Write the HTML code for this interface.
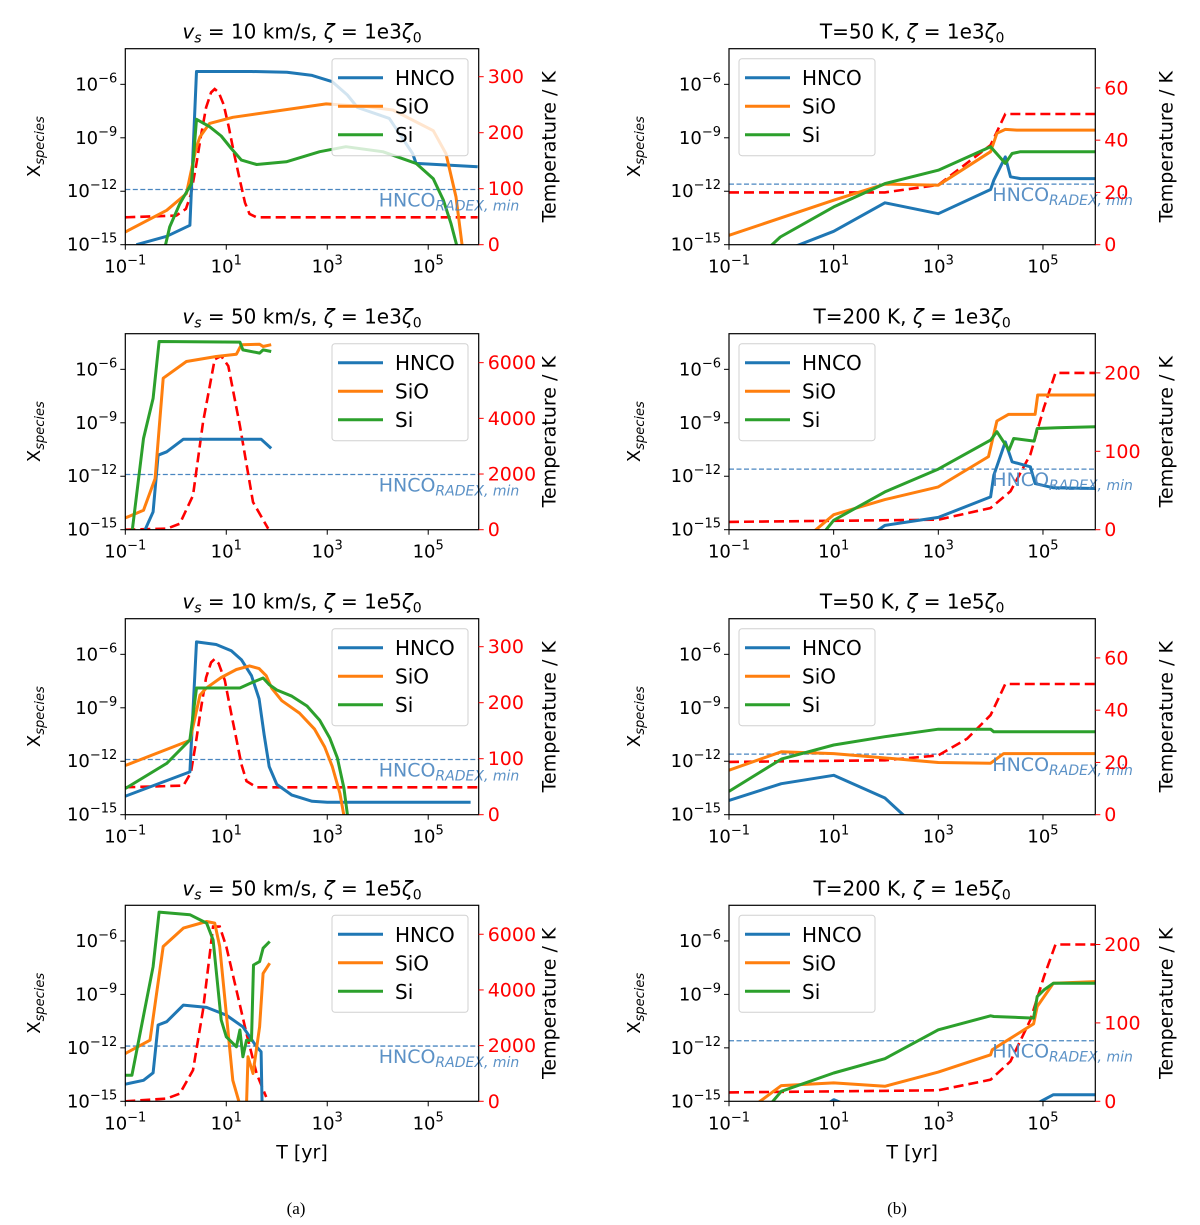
<!DOCTYPE html>
<html><head><meta charset="utf-8"><style>
html,body{margin:0;padding:0;background:#fff;}
svg{display:block;font-family:"DejaVu Sans","Liberation Sans",sans-serif;}
</style></head><body>
<svg id="fig" width="1200" height="1225" viewBox="0 0 1200 1225" xmlns="http://www.w3.org/2000/svg"></svg>
<script>
// ---- data: [log10 time (yr), log10 abundance] ; temperature: [log10 time, K] ----
const a1_hnco=[[-0.78,-15],[-0.18,-14.53],[0.28,-13.91],[0.41,-5.28],[1.5,-5.28],[2.2,-5.32],[2.7,-5.5],[3.1,-5.85],[3.4,-6.6],[3.6,-7.3],[4.23,-7.91],[4.69,-9.88],[4.76,-10.44],[5.98,-10.63]];
const a1_sio=[[-1,-14.29],[-0.18,-13.07],[0.21,-12.13],[0.28,-11.2],[0.4,-9.6],[0.48,-8.94],[0.67,-8.19],[1.13,-7.85],[2.98,-7.1],[3.77,-7.25],[4.3,-7.44],[5.1,-8.6],[5.35,-9.88],[5.55,-12.32],[5.68,-15.2]];
const a1_si=[[-0.22,-15.2],[-0.12,-14.0],[0.08,-12.7],[0.31,-11.57],[0.41,-7.96],[0.67,-8.38],[0.9,-8.9],[1.1,-9.6],[1.3,-10.25],[1.6,-10.5],[2.19,-10.35],[2.85,-9.78],[3.37,-9.5],[4.1,-9.78],[4.76,-10.44],[5.1,-11.3],[5.3,-12.5],[5.45,-13.8],[5.58,-15.2]];
const a1_temp=[[-1,49],[0.01,52],[0.2,64],[0.3,90],[0.4,140],[0.5,195],[0.6,245],[0.7,272],[0.77,278],[0.85,272],[0.95,250],[1.05,210],[1.15,165],[1.27,115],[1.37,75],[1.46,55],[1.6,49],[5.98,49]];

const a2_hnco=[[-0.64,-15.2],[-0.45,-14.0],[-0.35,-10.82],[-0.18,-10.63],[0.15,-9.92],[1.69,-9.92],[1.89,-10.44]];
const a2_sio=[[-1,-14.34],[-0.64,-13.91],[-0.41,-12.13],[-0.25,-6.5],[0.21,-5.56],[0.8,-5.28],[1.2,-5.15],[1.3,-4.62],[1.66,-4.59],[1.73,-4.72],[1.89,-4.62]];
const a2_si=[[-0.87,-15.2],[-0.64,-9.88],[-0.45,-7.63],[-0.33,-4.44],[1.27,-4.47],[1.33,-4.91],[1.66,-5.09],[1.73,-4.91],[1.89,-5.0]];
const a2_temp=[[-1,0],[-0.18,36],[0.08,215],[0.34,1229],[0.54,3853],[0.77,6119],[0.9,6239],[1.04,5881],[1.27,3734],[1.53,990],[1.83,36]];

const a3_hnco=[[-1,-13.96],[0.28,-12.6],[0.41,-5.3],[0.8,-5.45],[1.1,-5.8],[1.3,-6.3],[1.5,-7.2],[1.65,-8.5],[1.75,-10.5],[1.85,-12.3],[2.0,-13.3],[2.3,-13.9],[2.7,-14.25],[3.0,-14.3],[5.84,-14.3]];
const a3_sio=[[-1,-12.24],[0.28,-10.83],[0.48,-8.29],[0.6,-7.9],[0.9,-7.3],[1.2,-6.85],[1.46,-6.65],[1.65,-6.8],[1.79,-7.2],[1.9,-7.9],[2.1,-8.6],[2.45,-9.3],[2.75,-10.2],[2.95,-11.2],[3.1,-12.3],[3.25,-13.8],[3.34,-15.2]];
const a3_si=[[-1,-13.53],[-0.18,-12.12],[0.28,-10.8],[0.41,-7.89],[1.27,-7.89],[1.5,-7.6],[1.73,-7.33],[1.85,-7.7],[2.0,-8.0],[2.3,-8.35],[2.6,-8.9],[2.85,-9.7],[3.05,-10.7],[3.2,-11.8],[3.33,-13.5],[3.41,-15.2]];
const a3_temp=[[-1,49],[0.15,52],[0.3,75],[0.4,130],[0.5,190],[0.6,245],[0.7,272],[0.77,278],[0.85,270],[0.97,240],[1.1,180],[1.2,135],[1.3,90],[1.4,60],[1.6,49],[5.98,49]];

const a4_hnco=[[-1,-14.04],[-0.64,-13.82],[-0.45,-13.4],[-0.35,-10.72],[-0.18,-10.53],[0.15,-9.6],[0.61,-9.73],[1.0,-10.16],[1.33,-10.82],[1.6,-11.94],[1.69,-12.22],[1.71,-15.2]];
const a4_sio=[[-1,-12.32],[-0.51,-11.57],[-0.25,-6.31],[0.15,-5.28],[0.61,-4.91],[0.77,-5.0],[0.87,-6.31],[1.0,-10.07],[1.13,-13.82],[1.27,-15.2],[1.4,-15.2],[1.43,-12.5],[1.53,-13.44],[1.66,-10.82],[1.73,-7.82],[1.86,-7.25]];
const a4_si=[[-1,-13.54],[-0.87,-13.54],[-0.45,-7.44],[-0.33,-4.38],[0.28,-4.53],[0.61,-5.0],[0.74,-5.94],[0.9,-10.44],[1.0,-11.38],[1.2,-11.94],[1.27,-11.0],[1.33,-12.5],[1.4,-11.57],[1.5,-11.57],[1.54,-7.35],[1.66,-7.16],[1.73,-6.41],[1.86,-6.03]];
const a4_temp=[[-1,0],[-0.18,96],[0.08,276],[0.34,1116],[0.54,3276],[0.74,6276],[0.87,6276],[1.0,5556],[1.2,3996],[1.4,2436],[1.6,996],[1.79,156]];

const b1_hnco=[[0.17,-15.2],[1.0,-14.25],[1.98,-12.65],[3.0,-13.26],[4.0,-11.9],[4.06,-11.38],[4.28,-10.07],[4.38,-11.19],[4.57,-11.29],[6.0,-11.29]];
const b1_sio=[[-1,-14.47],[1.0,-12.5],[1.98,-11.6],[3.0,-11.66],[4.0,-9.78],[4.12,-8.75],[4.28,-8.53],[4.5,-8.57],[6.0,-8.57]];
const b1_si=[[-0.25,-15.2],[-0.02,-14.57],[1.0,-12.88],[1.98,-11.57],[3.0,-10.82],[4.0,-9.5],[4.28,-10.44],[4.41,-9.88],[4.57,-9.78],[6.0,-9.78]];
const b1_temp=[[-1,20],[1.98,20],[3.0,22.9],[4.0,38.1],[4.28,50],[6.0,50]];

const b2_hnco=[[1.76,-15.2],[1.98,-14.76],[3.0,-14.31],[4.0,-13.16],[4.06,-11.94],[4.28,-10.07],[4.41,-11.19],[4.76,-11.47],[4.85,-12.41],[5.2,-12.65],[6.0,-12.69]];
const b2_sio=[[0.58,-15.2],[1.0,-14.16],[1.98,-13.31],[3.0,-12.6],[3.96,-10.9],[4.12,-8.9],[4.34,-8.53],[4.85,-8.53],[4.9,-7.44],[6.0,-7.44]];
const b2_si=[[0.8,-15.2],[1.0,-14.47],[1.98,-12.88],[3.0,-11.6],[4.0,-9.97],[4.12,-9.5],[4.35,-10.53],[4.44,-9.88],[4.83,-10.03],[4.89,-9.32],[5.27,-9.28],[6.0,-9.22]];
const b2_temp=[[-1,10],[3.0,12.8],[4.0,27.7],[4.38,49],[4.76,96],[5.02,156],[5.24,200],[6.0,200]];

const b3_hnco=[[-1,-14.2],[0.0,-13.26],[1.0,-12.79],[1.98,-14.06],[2.4,-15.2]];
const b3_sio=[[-1,-12.5],[0.0,-11.47],[1.0,-11.57],[3.0,-12.07],[4.0,-12.11],[4.25,-11.57],[6.0,-11.57]];
const b3_si=[[-1,-13.69],[0.0,-11.88],[1.0,-11.09],[1.98,-10.62],[3.0,-10.2],[4.0,-10.2],[4.06,-10.35],[6.0,-10.35]];
const b3_temp=[[-1,20.2],[1.98,20.8],[3.0,22.7],[3.55,29.1],[4.0,38.1],[4.28,50],[6.0,50]];

const b4_hnco=[[0.85,-15.2],[1.0,-14.91],[1.25,-15.2],[4.83,-15.2],[5.2,-14.63],[6.0,-14.63]];
const b4_sio=[[-0.5,-15.2],[0.0,-14.12],[1.0,-13.97],[1.98,-14.16],[3.0,-13.36],[4.0,-12.39],[4.03,-12.11],[4.82,-10.65],[4.89,-9.68],[5.2,-8.37],[6.0,-8.28]];
const b4_si=[[-0.22,-15.2],[0.0,-14.44],[1.0,-13.41],[1.98,-12.61],[3.0,-10.99],[4.0,-10.2],[4.06,-10.24],[4.82,-10.33],[4.89,-9.12],[5.02,-8.75],[5.2,-8.37],[6.0,-8.37]];
const b4_temp=[[-1,11.4],[3.0,14],[4.0,27.5],[4.38,51],[4.76,104],[5.02,159],[5.24,200],[6.0,200]];

const xTickExps=[-1,1,3,5];
const yTickExps=[-15,-12,-9,-6];
const speciesNames=["HNCO","SiO","Si"];

const NS="http://www.w3.org/2000/svg";
const svg=document.getElementById('fig');
const COLORS=["#1f77b4","#ff7f0e","#2ca02c"];
function mk(tag,attrs,parent){const e=document.createElementNS(NS,tag);for(const k in attrs)e.setAttribute(k,attrs[k]);(parent||svg).appendChild(e);return e;}

const panels=[
 {id:'a1',col:0,row:0,title:['v','s',' = 10 km/s, ','3'],series:[a1_hnco,a1_sio,a1_si],temp:a1_temp,tmax:350,tticks:[0,100,200,300],xlab:false},
 {id:'a2',col:0,row:1,title:['v','s',' = 50 km/s, ','3'],series:[a2_hnco,a2_sio,a2_si],temp:a2_temp,tmax:7040,tticks:[0,2000,4000,6000],xlab:false},
 {id:'a3',col:0,row:2,title:['v','s',' = 10 km/s, ','5'],series:[a3_hnco,a3_sio,a3_si],temp:a3_temp,tmax:350,tticks:[0,100,200,300],xlab:false},
 {id:'a4',col:0,row:3,title:['v','s',' = 50 km/s, ','5'],series:[a4_hnco,a4_sio,a4_si],temp:a4_temp,tmax:7040,tticks:[0,2000,4000,6000],xlab:true},
 {id:'b1',col:1,row:0,title:['T=50 K, ','3'],series:[b1_hnco,b1_sio,b1_si],temp:b1_temp,tmax:75,tticks:[0,20,40,60],xlab:false},
 {id:'b2',col:1,row:1,title:['T=200 K, ','3'],series:[b2_hnco,b2_sio,b2_si],temp:b2_temp,tmax:250,tticks:[0,100,200],xlab:false},
 {id:'b3',col:1,row:2,title:['T=50 K, ','5'],series:[b3_hnco,b3_sio,b3_si],temp:b3_temp,tmax:75,tticks:[0,20,40,60],xlab:false},
 {id:'b4',col:1,row:3,title:['T=200 K, ','5'],series:[b4_hnco,b4_sio,b4_si],temp:b4_temp,tmax:250,tticks:[0,100,200],xlab:true},
];
const COLX=[[125.3,478.7],[729,1095.3]];
const ROWY=[48.7,333.7,618.7,905.3];
const H=196;
const RADEX=[-11.9,-11.6];

panels.forEach(p=>{
  const x0=COLX[p.col][0],x1=COLX[p.col][1],y0=ROWY[p.row],y1=y0+H;
  const X=t=>x0+(t+1)/7*(x1-x0);
  const Y=v=>y1-(v+15)/11*(y1-y0);
  const T=v=>y1-v/p.tmax*(y1-y0);
  const g=mk('g',{});
  
  
  const cid='clip-'+p.id;
  const cp=mk('clipPath',{id:cid},g);mk('rect',{x:x0,y:y0,width:x1-x0,height:y1-y0},cp);
  const tt=mk('text',{x:(x0+x1)/2,y:y0-10,'text-anchor':'middle','font-size':20},g);
  
  
  let s='';
  if(p.col===0){s=`<tspan font-style="italic">${p.title[0]}</tspan><tspan font-style="italic" font-size="14" dy="4">${p.title[1]}</tspan><tspan dy="-4">${p.title[2]}</tspan><tspan font-style="italic">ζ</tspan> = 1e${p.title[3]}<tspan font-style="italic">ζ</tspan><tspan font-size="14" dy="4">0</tspan>`;}
  else{s=`${p.title[0]}<tspan font-style="italic">ζ</tspan> = 1e${p.title[1]}<tspan font-style="italic">ζ</tspan><tspan font-size="14" dy="4">0</tspan>`;}
  tt.innerHTML=s;
  const pg=mk('g',{'clip-path':`url(#${cid})`},g);
  const ry=Y(RADEX[p.col]);
  const rl=mk('line',{x1:x0,x2:x1,y1:ry,y2:ry,stroke:'#4a86c0','stroke-width':1.3,'stroke-dasharray':'5,2.5'},pg);
  
  
  const tp=mk('polyline',{points:p.temp.map(d=>X(d[0]).toFixed(1)+','+T(d[1]).toFixed(1)).join(' '),fill:'none',stroke:'#ff0000','stroke-width':2.6,'stroke-dasharray':'10,5'},pg);
  
  
  p.series.forEach((ser,i)=>{
    const pl=mk('polyline',{points:ser.map(d=>X(d[0]).toFixed(1)+','+Y(d[1]).toFixed(1)).join(' '),fill:'none',stroke:COLORS[i],'stroke-width':3,'stroke-linejoin':'round'},pg);
    
    
  });
  const rt=mk('text',{x:p.col===0?x1-100:x1-103,y:ry+17,fill:'#4a86c0','font-size':19,opacity:0.9},g);
  
  
  rt.innerHTML='HNCO<tspan font-size="14" font-style="italic" dy="4">RADEX, min</tspan>';
  mk('rect',{x:x0,y:y0,width:x1-x0,height:y1-y0,fill:'none',stroke:'#000','stroke-width':1.2},g);
  xTickExps.forEach(e=>{
    const x=X(e);
    mk('line',{x1:x,x2:x,y1:y1,y2:y1+5,stroke:'#000','stroke-width':1},g);
    const t=mk('text',{x:x,y:y1+28,'text-anchor':'middle','font-size':18},g);
    
    
    t.innerHTML=`10<tspan font-size="13" dy="-8">${e<0?'−'+(-e):e}</tspan>`;
  });
  yTickExps.forEach(e=>{
    const y=Y(e);
    mk('line',{x1:x0-5,x2:x0,y1:y,y2:y,stroke:'#000','stroke-width':1},g);
    const t=mk('text',{x:x0-8,y:y+6,'text-anchor':'end','font-size':18},g);
    
    
    t.innerHTML=`10<tspan font-size="13" dy="-8">−${-e}</tspan>`;
  });
  p.tticks.forEach(v=>{
    const y=T(v);
    mk('line',{x1:x1,x2:x1+5,y1:y,y2:y,stroke:'#ff0000','stroke-width':1},g);
    const t=mk('text',{x:x1+9,y:y+6.5,'font-size':19,fill:'#ff0000'},g);
    t.textContent=v;
    
    
  });
  const ylx=p.col===0?40:640;
  const yl=mk('text',{x:ylx,y:(y0+y1)/2,'text-anchor':'middle','font-size':18,transform:`rotate(-90 ${ylx} ${(y0+y1)/2})`},g);
  yl.innerHTML='X<tspan font-size="13" font-style="italic" dy="4">species</tspan>';
  
  
  const tlx=x1+77;
  const tl=mk('text',{x:tlx,y:(y0+y1)/2,'text-anchor':'middle','font-size':19,transform:`rotate(-90 ${tlx} ${(y0+y1)/2})`},g);
  tl.textContent='Temperature / K';
  
  
  if(p.xlab){
    const xl=mk('text',{x:(x0+x1)/2,y:y1+57,'text-anchor':'middle','font-size':19},g);
    xl.textContent='T [yr]';
    
    
  }
  const lx=p.col===0?332:739, ly=y0+10;
  const lg=mk('g',{},g);
  
  
  mk('rect',{x:lx,y:ly,width:136,height:97,rx:3,fill:'#fff','fill-opacity':0.8,stroke:'#d0d0d0','stroke-width':1},lg);
  speciesNames.forEach((n,i)=>{
    const yy=ly+19+i*28.5;
    const le=mk('g',{},lg);
    
    
    mk('line',{x1:lx+6,x2:lx+51,y1:yy,y2:yy,stroke:COLORS[i],'stroke-width':3},le);
    const t=mk('text',{x:lx+63,y:yy+7.5,'font-size':20},le);
    t.textContent=n;
  });
});
const ca=mk('text',{x:296,y:1214,'text-anchor':'middle','font-size':17,'font-family':'Liberation Serif, serif'});
ca.textContent='(a)';


const cb=mk('text',{x:897,y:1214,'text-anchor':'middle','font-size':17,'font-family':'Liberation Serif, serif'});
cb.textContent='(b)';


</script>
</body></html>
